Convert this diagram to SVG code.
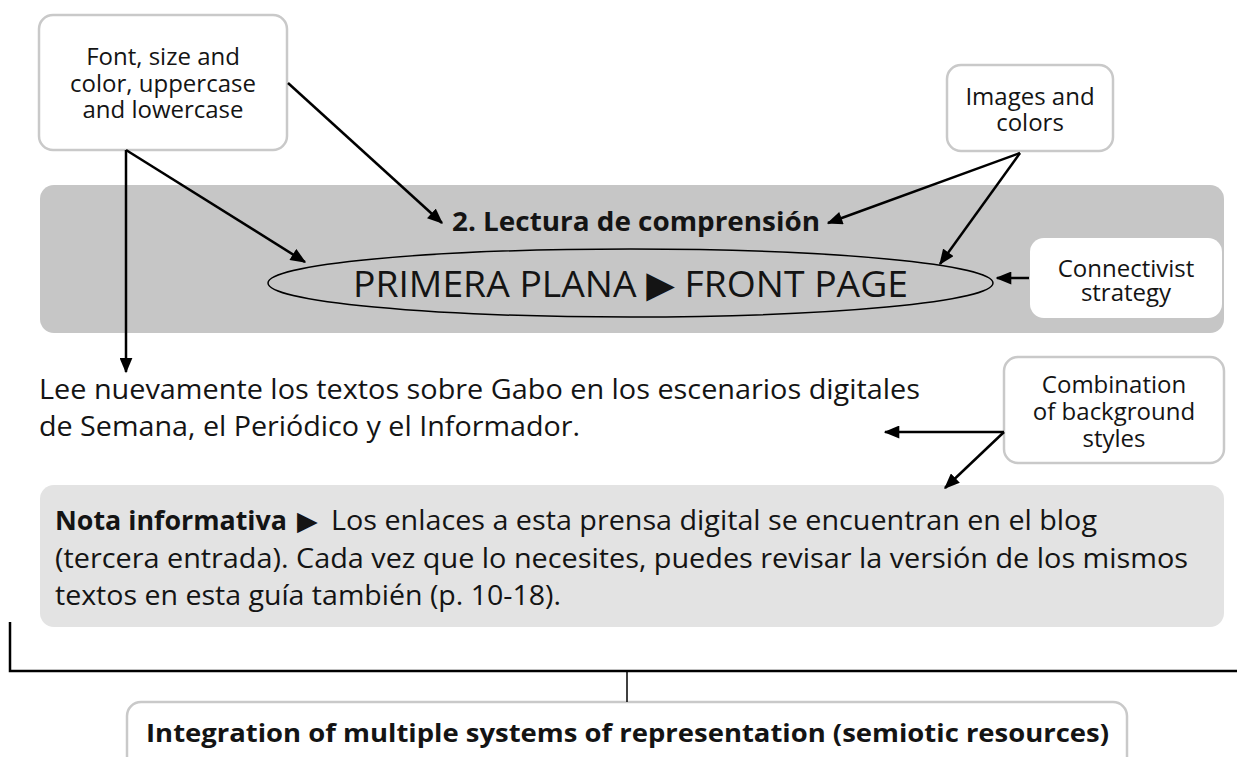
<svg xmlns="http://www.w3.org/2000/svg" width="1237" height="757" viewBox="0 0 1237 757">
<style>
text{font-family:"Open Sans","Liberation Sans",sans-serif;fill:#141414}
.lbl{font-size:24px;text-anchor:middle}
.box{fill:#fff;stroke:#c9c9c9;stroke-width:2.5}
.body{font-size:27px}
.b{font-weight:bold}
.con{fill:none;stroke:#000;stroke-width:2.5}
.thin{fill:none;stroke:#000;stroke-width:1.5}
.tri{font-family:"DejaVu Sans",sans-serif}
</style>
<defs>
<marker id="ah" viewBox="0 0 12 10" refX="11" refY="5" markerWidth="16" markerHeight="13" markerUnits="userSpaceOnUse" orient="auto"><path d="M0,0 L12,5 L0,10 z" fill="#000"/></marker>
</defs>
<g id="header-panel">
<rect x="40" y="185" width="1184" height="148" rx="14" fill="#c6c6c6"/>
<text x="452" y="231" class="b" font-size="27" textLength="368" lengthAdjust="spacingAndGlyphs">2. Lectura de comprensión</text>
</g>
<g id="title-ellipse">
<ellipse cx="630.5" cy="283" rx="362.5" ry="34" fill="none" stroke="#000" stroke-width="1.5"/>
<text x="353" y="297" font-size="37" textLength="555" lengthAdjust="spacingAndGlyphs">PRIMERA PLANA <tspan class="tri">▶</tspan> FRONT PAGE</text>
</g>
<g id="font-box">
<rect x="39" y="15" width="248" height="135" rx="14" class="box"/>
<text class="lbl" x="163" y="65">Font, size and</text>
<text class="lbl" x="163" y="92">color, uppercase</text>
<text class="lbl" x="163" y="118">and lowercase</text>
</g>
<g id="images-box">
<rect x="947" y="65" width="166" height="86" rx="14" class="box"/>
<text class="lbl" x="1030" y="105">Images and</text>
<text class="lbl" x="1030" y="131">colors</text>
</g>
<g id="connectivist-box">
<rect x="1030" y="238" width="192" height="80" rx="14" fill="#fff"/>
<text class="lbl" x="1126" y="277">Connectivist</text>
<text class="lbl" x="1126" y="301">strategy</text>
</g>
<g id="instruction-text">
<text class="body" x="39" y="399" textLength="881" lengthAdjust="spacingAndGlyphs">Lee nuevamente los textos sobre Gabo en los escenarios digitales</text>
<text class="body" x="39" y="436" textLength="541" lengthAdjust="spacingAndGlyphs">de Semana, el Periódico y el Informador.</text>
</g>
<g id="combination-box">
<rect x="1004" y="357" width="220" height="106" rx="14" class="box"/>
<text class="lbl" x="1114" y="393">Combination</text>
<text class="lbl" x="1114" y="420">of background</text>
<text class="lbl" x="1114" y="447">styles</text>
</g>
<g id="nota-panel">
<rect x="40" y="485" width="1184" height="142" rx="14" fill="#e3e3e3"/>
<text class="body b" x="55" y="530" textLength="232" lengthAdjust="spacingAndGlyphs">Nota informativa</text>
<text class="body tri" x="297" y="530" font-size="26">▶</text>
<text class="body" x="331" y="530" textLength="766" lengthAdjust="spacingAndGlyphs">Los enlaces a esta prensa digital se encuentran en el blog</text>
<text class="body" x="55" y="568" textLength="1133" lengthAdjust="spacingAndGlyphs">(tercera entrada). Cada vez que lo necesites, puedes revisar la versión de los mismos</text>
<text class="body" x="55" y="605" textLength="506" lengthAdjust="spacingAndGlyphs">textos en esta guía también (p. 10-18).</text>
</g>
<g id="integration-box">
<rect x="127" y="702" width="1000" height="80" rx="14" class="box"/>
<text x="146" y="742" class="b" font-size="25" textLength="963" lengthAdjust="spacingAndGlyphs">Integration of multiple systems of representation (semiotic resources)</text>
</g>
<g id="connectors">
<path class="con" d="M288,83 L442,223" marker-end="url(#ah)"/>
<path class="con" d="M126,150 L305,262" marker-end="url(#ah)"/>
<path class="con" d="M126,150 L126,372" marker-end="url(#ah)"/>
<path class="con" d="M1020,153 L828,223" marker-end="url(#ah)"/>
<path class="con" d="M1020,153 L940,264" marker-end="url(#ah)"/>
<path class="con" d="M1029,278 L997,278" marker-end="url(#ah)"/>
<path class="con" d="M1004,432 L885,432" marker-end="url(#ah)"/>
<path class="con" d="M1004,432 L945,488" marker-end="url(#ah)"/>
<path class="con" d="M10,622 L10,671 L1237,671"/>
<path class="thin" d="M627,671 L627,702"/>
</g>
</svg>
